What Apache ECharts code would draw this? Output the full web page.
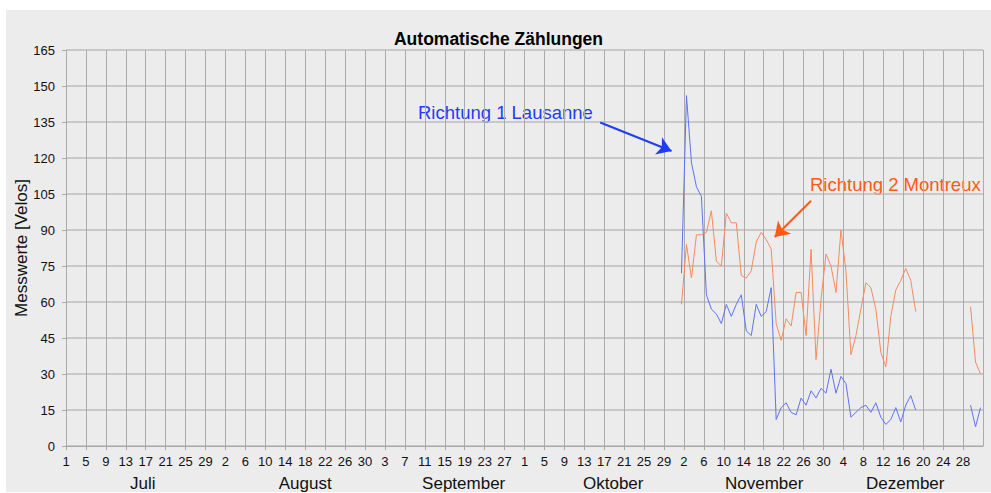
<!DOCTYPE html>
<html>
<head>
<meta charset="utf-8">
<script src="https://cdn.jsdelivr.net/npm/echarts@6/dist/echarts.min.js"></script>
<style>
  body { margin: 0; background: #fff; }
  #wrap { position: relative; width: 991px; height: 493px; }
  #chart { position: absolute; left: 6px; top: 10px; width: 985px; height: 482px; background: #ececec; }
</style>
</head>
<body>
<div id="wrap"><div id="chart"></div></div>
<script>
// tick labels every 4 days, starting 1 July (day index 0)
const dayTicks = ['1','5','9','13','17','21','25','29',
  '2','6','10','14','18','22','26','30',
  '3','7','11','15','19','23','27',
  '1','5','9','13','17','21','25','29',
  '2','6','10','14','18','22','26','30',
  '4','8','12','16','20','24','28']
const months = ['Juli','August','September','Oktober','November','Dezember']
const monthPos = [15.4, 48, 79.8, 109.8, 140.1, 168.4]

// daily values from 1 November (day index 123) to 31 December
const startDay = 123
const lausanne = [72,146,118,108,104,63,57,55,51,59,54,59,63,48,46,59,54,56,66,11,
  16,18,14,13,20,17,23,20,24,22,
  32,22,29,26,12,14,16,17,14,18,12,9,11,16,10,17,21,15,
  null,null,null,null,null,null,null,null,null,null,
  17,8,16]
const montreux = [59,84,70,88,88,89,98,77,75,97,93,93,71,70,73,85,89,86,82,51,
  44,53,50,64,64,46,82,36,61,80,
  75,64,90,73,38,46,57,68,66,57,39,33,54,65,69,74,69,56,
  null,null,null,null,null,null,null,null,null,null,
  58,35,30]

const toPoints = arr => arr.map((v, i) => [startDay + i + 0.5, v])

var myChart = echarts.init(document.getElementById('chart'), null, { renderer: 'svg' })
var font = 'Liberation Sans, Arial, sans-serif'
var option = {
  animation: false,
  textStyle: { fontFamily: font },
  title: {
    text: 'Automatische Zählungen',
    left: 'center',
    top: 15,
    textStyle: { fontSize: 17.5, fontWeight: 'bold', color: '#000', fontFamily: font }
  },
  grid: { left: 60, right: 8, top: 40, bottom: 46, outerBoundsMode: 'none', containLabel: false },
  xAxis: [
    {
      type: 'value',
      min: 0,
      max: 184,
      interval: 4,
      axisLine: { lineStyle: { color: '#a8a8a8' } },
      axisTick: { show: true, length: 4, lineStyle: { color: '#a8a8a8' } },
      axisLabel: {
        fontSize: 13,
        color: '#111',
        margin: 9,
        showMaxLabel: false,
        formatter: v => dayTicks[Math.round(v / 4)] || ''
      },
      splitLine: { show: true, lineStyle: { color: '#ababab', width: 1 } }
    },
    {
      type: 'value',
      min: 0,
      max: 184,
      position: 'bottom',
      axisLine: { show: false },
      axisTick: { show: false },
      splitLine: { show: false },
      axisLabel: {
        customValues: monthPos,
        fontSize: 17,
        color: '#111',
        margin: 29,
        formatter: v => months[monthPos.indexOf(v)] || ''
      }
    }
  ],
  yAxis: {
    type: 'value',
    min: 0,
    max: 165,
    interval: 15,
    name: 'Messwerte [Velos]',
    nameLocation: 'middle',
    nameGap: 36,
    nameMoveOverlap: false,
    nameTextStyle: { fontSize: 17, color: '#111' },
    axisLine: { show: false },
    axisTick: { show: true, length: 4, lineStyle: { color: '#a8a8a8' } },
    axisLabel: { fontSize: 13, color: '#111', margin: 11 },
    splitLine: { lineStyle: { color: '#bdbdbd', width: 1.5 } }
  },
  series: [
    {
      name: 'Richtung 1 Lausanne',
      type: 'line',
      data: toPoints(lausanne),
      showSymbol: false,
      connectNulls: false,
      lineStyle: { color: '#5d72f2', width: 1 },
      itemStyle: { color: '#5d72f2' },
      markLine: {
        silent: true,
        symbol: ['none', 'arrow'],
        symbolSize: 14,
        label: { show: false },
        lineStyle: { color: '#1f3cf7', width: 2, type: 'solid' },
        data: [[{ coord: [107.2, 134.8] }, { coord: [121.5, 122.9] }]]
      }
    },
    {
      name: 'Richtung 2 Montreux',
      type: 'line',
      data: toPoints(montreux),
      showSymbol: false,
      connectNulls: false,
      lineStyle: { color: '#f58a5e', width: 1 },
      itemStyle: { color: '#f58a5e' },
      markLine: {
        silent: true,
        symbol: ['none', 'arrow'],
        symbolSize: 14,
        label: { show: false },
        lineStyle: { color: '#ff5a14', width: 2, type: 'solid' },
        data: [[{ coord: [149.5, 102.2] }, { coord: [142.2, 87.1] }]]
      }
    }
  ],
  graphic: [
    {
      type: 'text', left: 412, top: 93,
      style: { text: 'Richtung 1 Lausanne', fill: '#1f3cf7', fontSize: 18.5, fontFamily: font }
    },
    {
      type: 'text', left: 804, top: 165,
      style: { text: 'Richtung 2 Montreux', fill: '#ff5a14', fontSize: 18.5, fontFamily: font }
    }
  ]
}
option && myChart.setOption(option)
</script>
</body>
</html>
